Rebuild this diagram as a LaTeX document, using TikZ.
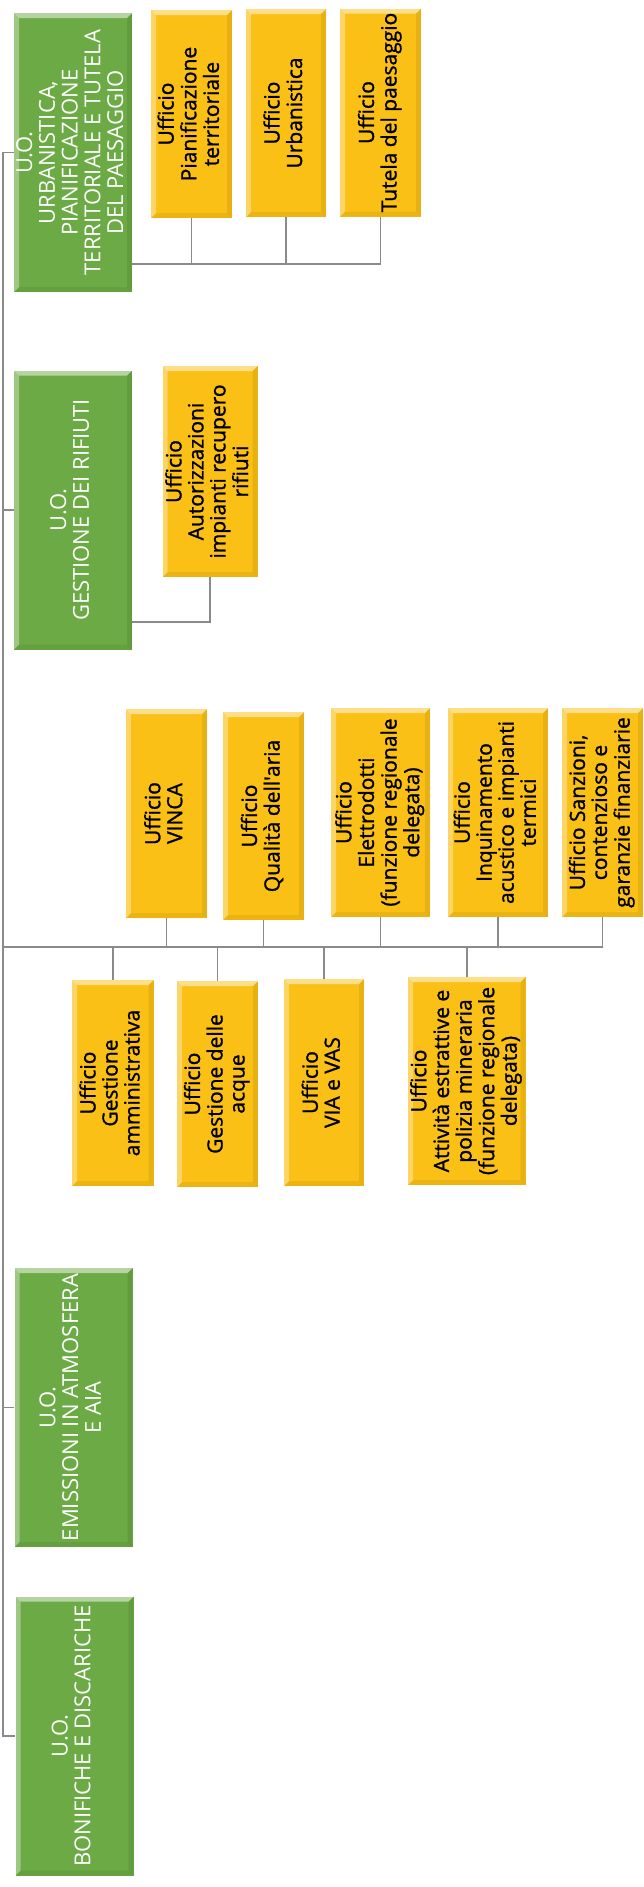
\documentclass[tikz,border=0pt]{standalone}
\usepackage{fontspec}
\setmainfont{Open Sans}
\newfontfamily\uffont{Open Sans}[FakeBold=1.2]
\usetikzlibrary{calc}
\definecolor{uogreen}{HTML}{6BAA44}
\definecolor{ufyellow}{HTML}{FBC015}
\definecolor{linegray}{HTML}{8A8A8A}
\newcommand{\vlines}[1]{\rotatebox{90}{\begin{tabular}{@{}c@{}}#1\end{tabular}}}
\tikzset{
  bevel/.style={path picture={
    \fill[white,opacity=.5] (path picture bounding box.north west) -- (path picture bounding box.north east)
      -- ([shift={(-5pt,-5pt)}]path picture bounding box.north east) -- ([shift={(5pt,-5pt)}]path picture bounding box.north west) -- cycle;
    \fill[white,opacity=.35] (path picture bounding box.north west) -- ([shift={(5pt,-5pt)}]path picture bounding box.north west)
      -- ([shift={(5pt,5pt)}]path picture bounding box.south west) -- (path picture bounding box.south west) -- cycle;
    \fill[black,opacity=.06] (path picture bounding box.south west) -- (path picture bounding box.south east)
      -- ([shift={(-5pt,5pt)}]path picture bounding box.south east) -- ([shift={(5pt,5pt)}]path picture bounding box.south west) -- cycle;
    \fill[black,opacity=.08] (path picture bounding box.north east) -- ([shift={(-5pt,-5pt)}]path picture bounding box.north east)
      -- ([shift={(-5pt,5pt)}]path picture bounding box.south east) -- (path picture bounding box.south east) -- cycle;
  }},
  uo/.style={rectangle, fill=uogreen, text=white, inner sep=0pt, minimum width=118pt, minimum height=279pt,
    font=\fontsize{22}{22.6}\selectfont, bevel},
  uff/.style={rectangle, fill=ufyellow, text=black, inner sep=0pt, minimum height=208pt,
    font=\uffont\fontsize{21}{22}\selectfont, bevel},
  conn/.style={draw=linegray, line width=1.8pt},
}
\begin{document}
\begin{tikzpicture}[x=1pt,y=-1pt]
\useasboundingbox (0,0) rectangle (644,1887);
\fill[white] (0,0) rectangle (644,1887);

% U.O. boxes
\node[uo] (g1) at (73,152.5) {\vlines{U.O.\\URBANISTICA,\\PIANIFICAZIONE\\TERRITORIALE E TUTELA\\DEL PAESAGGIO}};
\node[uo] (g2) at (73,510) {\vlines{U.O.\\GESTIONE DEI RIFIUTI}};
\node[uo] (g3) at (73.5,1407.5) {\vlines{U.O.\\EMISSIONI IN ATMOSFERA\\E AIA}};
\node[uo] (g4) at (74.5,1736) {\vlines{U.O.\\BONIFICHE E DISCARICHE}};

% offices of U.O. Urbanistica
\node[uff, minimum width=81pt] (p1) at (191.5,114) {\vlines{Ufficio\\Pianificazione\\territoriale}};
\node[uff, minimum width=80pt] (p2) at (286,113) {\vlines{Ufficio\\Urbanistica}};
\node[uff, minimum width=81pt] (p3) at (380.5,112.5) {\vlines{Ufficio\\Tutela del paesaggio}};

% office of U.O. Rifiuti
\node[uff, minimum width=95pt, minimum height=211pt] (a1) at (210,471.5) {\vlines{Ufficio\\Autorizzazioni\\impianti recupero\\rifiuti}};

% staff offices above the bus
\node[uff, minimum width=81pt, minimum height=209pt] (s1) at (166.5,813.5) {\vlines{Ufficio\\VINCA}};
\node[uff, minimum width=81pt] (s2) at (263.5,816) {\vlines{Ufficio\\Qualità dell'aria}};
\node[uff, minimum width=99pt, minimum height=209pt] (s3) at (380.5,812.5) {\vlines{Ufficio\\Elettrodotti\\(funzione regionale\\delegata)}};
\node[uff, minimum width=100pt, minimum height=209pt] (s4) at (498,812.5) {\vlines{Ufficio\\Inquinamento\\acustico e impianti\\termici}};
\node[uff, minimum width=81pt, minimum height=209pt] (s5) at (602.5,812.5) {\vlines{Ufficio Sanzioni,\\contenzioso e\\garanzie finanziarie}};

% staff offices below the bus
\node[uff, minimum width=81.5pt, minimum height=206pt] (l1) at (112.75,1083) {\vlines{Ufficio\\Gestione\\amministrativa}};
\node[uff, minimum width=81pt, minimum height=206pt] (l2) at (217.5,1084) {\vlines{Ufficio\\Gestione delle\\acque}};
\node[uff, minimum width=80pt, minimum height=207pt] (l3) at (324,1082.5) {\vlines{Ufficio\\VIA e VAS}};
\node[uff, minimum width=117.5pt, minimum height=208pt] (l4) at (466.75,1081) {\vlines{Ufficio\\Attività estrattive e\\polizia mineraria\\(funzione regionale\\delegata)}};

% connectors
\coordinate (trunk) at (3,0);
\coordinate (bus1) at (0,264);
\coordinate (bus2) at (0,622);
\coordinate (bus3) at (0,947);

\draw[conn] (g1.west) -- (trunk |- g1.west) -- (trunk |- g4.west) -- (g4.west);
\draw[conn] (g2.west) -- (trunk |- g2.west);
\draw[conn] (g3.west) -- (trunk |- g3.west);

\draw[conn] (g1.east |- bus1) -- (p3.south |- bus1) -- (p3.south);
\draw[conn] (p1.south) -- (p1.south |- bus1);
\draw[conn] (p2.south) -- (p2.south |- bus1);

\draw[conn] (g2.east |- bus2) -- (a1.south |- bus2) -- (a1.south);

\draw[conn] (trunk |- bus3) -- (s5.south |- bus3) -- (s5.south);
\foreach \n in {s1,s2,s3,s4} \draw[conn] (\n.south) -- (\n.south |- bus3);
\foreach \n in {l1,l2,l3,l4} \draw[conn] (\n.north) -- (\n.north |- bus3);
\end{tikzpicture}
\end{document}
